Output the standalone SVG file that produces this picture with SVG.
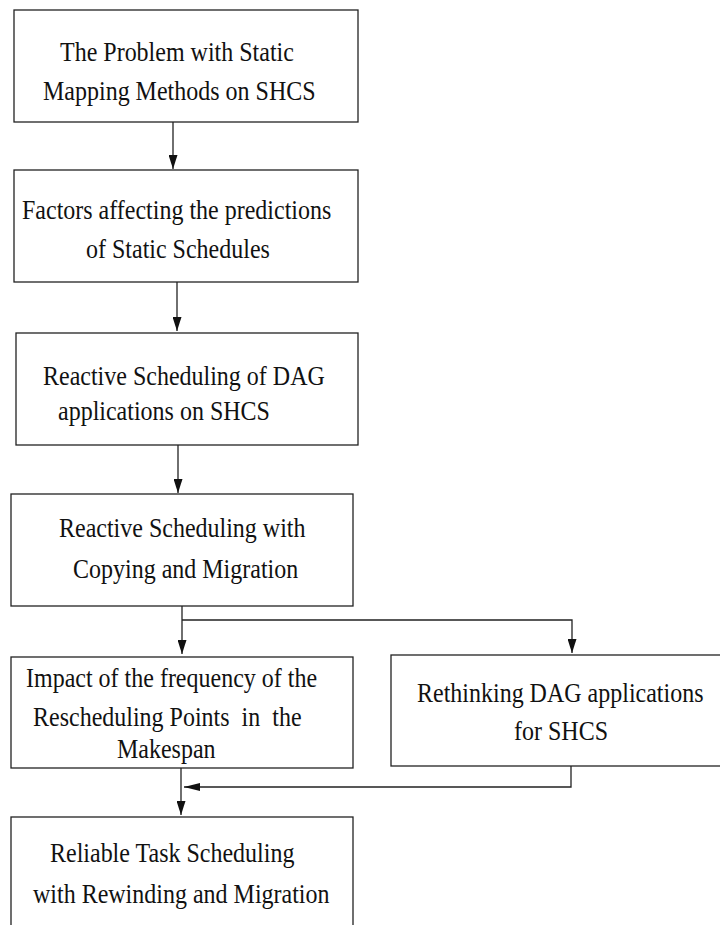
<svg xmlns="http://www.w3.org/2000/svg" width="720" height="925" viewBox="0 0 720 925">
  <style>
    .box { fill: #ffffff; stroke: #222222; stroke-width: 1.3; }
    .lbl { font-family: "Liberation Serif", "Times New Roman", serif; font-size: 24px; fill: #111111; }
    .edge { fill: none; stroke: #222222; stroke-width: 1.3; }
  </style>
  <defs>
    <marker id="arrow" viewBox="0 0 14 9" refX="14" refY="4.5" markerWidth="14" markerHeight="9" markerUnits="userSpaceOnUse" orient="auto">
      <path d="M0,0 L14,4.5 L0,9 z" fill="#111111"/>
    </marker>
    <marker id="arrowWide" viewBox="0 0 16 8" refX="16" refY="4" markerWidth="16" markerHeight="8" markerUnits="userSpaceOnUse" orient="auto">
      <path d="M0,0 L16,4 L0,8 z" fill="#111111"/>
    </marker>
  </defs>
  <rect x="0" y="0" width="720" height="925" fill="#ffffff"/>

  <g id="connectors">
    <path class="edge" d="M173,122 V169" marker-end="url(#arrow)"/>
    <path class="edge" d="M177,282 V331" marker-end="url(#arrow)"/>
    <path class="edge" d="M178,445 V493" marker-end="url(#arrow)"/>
    <path class="edge" d="M182,606 V654" marker-end="url(#arrow)"/>
    <path class="edge" d="M182,620 H572 V653" marker-end="url(#arrow)"/>
    <path class="edge" d="M181,768 V815" marker-end="url(#arrow)"/>
    <path class="edge" d="M571,766 V787 H184" marker-end="url(#arrowWide)"/>
  </g>

  <!-- labels are set in a slightly tall serif: each line is stretched 1.1x vertically about its baseline -->
  <g id="static-mapping-problem">
    <rect class="box" x="14" y="10" width="344" height="112"/>
    <text class="lbl" transform="translate(60,61) scale(1,1.1)">The Problem with Static</text>
    <text class="lbl" transform="translate(43,100) scale(1,1.1)">Mapping Methods on SHCS</text>
  </g>

  <g id="prediction-factors">
    <rect class="box" x="14" y="170" width="344" height="112"/>
    <text class="lbl" transform="translate(22,219) scale(1,1.1)">Factors affecting the predictions</text>
    <text class="lbl" transform="translate(86,258) scale(1,1.1)">of Static Schedules</text>
  </g>

  <g id="reactive-scheduling-dag">
    <rect class="box" x="16" y="333" width="342" height="112"/>
    <text class="lbl" transform="translate(43,385) scale(1,1.1)">Reactive Scheduling of DAG</text>
    <text class="lbl" transform="translate(58,420) scale(1,1.1)">applications on SHCS</text>
  </g>

  <g id="copying-migration">
    <rect class="box" x="11" y="494" width="342" height="112"/>
    <text class="lbl" transform="translate(59,537) scale(1,1.1)">Reactive Scheduling with</text>
    <text class="lbl" transform="translate(73,578) scale(1,1.1)">Copying and Migration</text>
  </g>

  <g id="rescheduling-frequency">
    <rect class="box" x="11" y="657" width="342" height="111"/>
    <text class="lbl" transform="translate(26,687) scale(1,1.1)">Impact of the frequency of the</text>
    <text class="lbl" transform="translate(33,726) scale(1,1.1)" xml:space="preserve">Rescheduling Points  in  the</text>
    <text class="lbl" transform="translate(117,758) scale(1,1.1)">Makespan</text>
  </g>

  <g id="rethinking-dag">
    <rect class="box" x="391" y="655" width="332" height="111"/>
    <text class="lbl" transform="translate(417,702) scale(1,1.1)">Rethinking DAG applications</text>
    <text class="lbl" transform="translate(514,740) scale(1,1.1)">for SHCS</text>
  </g>

  <g id="rewinding-migration">
    <rect class="box" x="11" y="817" width="342" height="120"/>
    <text class="lbl" transform="translate(50,862) scale(1,1.1)">Reliable Task Scheduling</text>
    <text class="lbl" transform="translate(33,903) scale(1,1.1)">with Rewinding and Migration</text>
  </g>
</svg>
